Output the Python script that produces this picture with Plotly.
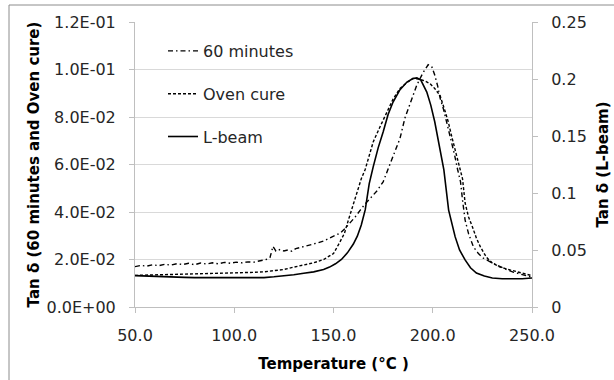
import plotly.graph_objects as go

# ---------------- data ----------------
temp_60 = [50, 53, 56, 59, 62, 65, 68, 71, 74, 77, 80, 83, 86, 89, 92, 95, 98, 101, 104, 107,
           110, 113, 116, 118, 119.5, 121, 123, 125, 127, 129, 131, 133, 136, 139, 142, 145,
           148, 151, 153.5, 156, 158.5, 161, 163.5, 166, 169, 172, 175, 177.5, 180, 183.5,
           186, 189.6, 192, 195, 197.7, 199.5, 201, 202.5, 203.7, 205.5, 207, 209, 211,
           212.5, 214, 215, 216.3, 218, 220.5, 223, 225.5, 228.5, 232, 236, 240.5, 244, 248, 250]
tan_60 = [0.0170, 0.0175, 0.0172, 0.0178, 0.0174, 0.0180, 0.0176, 0.0182, 0.0179, 0.0184,
          0.0178, 0.0185, 0.0181, 0.0186, 0.0182, 0.0188, 0.0184, 0.0189, 0.0186, 0.0190,
          0.0189, 0.0196, 0.0200, 0.0208, 0.0255, 0.0235, 0.0242, 0.0236, 0.0240, 0.0235,
          0.0246, 0.0250, 0.0256, 0.0262, 0.0270, 0.0278, 0.0290, 0.0300, 0.0312, 0.0332,
          0.0354, 0.0380, 0.0408, 0.0435, 0.0462, 0.0490, 0.0527, 0.0580, 0.0630, 0.0710,
          0.0796, 0.0880, 0.0935, 0.0985, 0.1020, 0.1012, 0.0977, 0.0930, 0.0880, 0.0830,
          0.0780, 0.0710, 0.0640, 0.0580, 0.0527, 0.0450, 0.0366, 0.0310, 0.0253, 0.0225,
          0.0206, 0.0192, 0.0177, 0.0162, 0.0147, 0.0138, 0.0128, 0.0125]

temp_oven = [50, 55, 60, 65, 70, 75, 80, 85, 90, 95, 100, 105, 110, 115, 120, 125, 130, 135,
             140, 145, 150, 153, 155.5, 157.5, 160, 162, 164, 166, 168, 170, 173.5, 177, 180,
             183.5, 187, 190, 193, 196, 198.7, 201, 203.7, 206, 207.8, 209.5, 211, 213, 215,
             216.3, 218, 220, 222, 224, 227, 230, 234, 239, 244, 248, 250]
tan_oven = [0.0133, 0.0134, 0.0136, 0.0135, 0.0138, 0.0139, 0.0140, 0.0141, 0.0142, 0.0143,
            0.0144, 0.0145, 0.0146, 0.0148, 0.0152, 0.0158, 0.0168, 0.0176, 0.0186, 0.0200,
            0.0225, 0.0270, 0.0310, 0.0366, 0.0435, 0.0490, 0.0540, 0.0580, 0.0640, 0.0695,
            0.0760, 0.0820, 0.0875, 0.0920, 0.0945, 0.0962, 0.0960, 0.0952, 0.0940, 0.0920,
            0.0890, 0.0830, 0.0780, 0.0720, 0.0670, 0.0610, 0.0540, 0.0438, 0.0380, 0.0337,
            0.0290, 0.0253, 0.0210, 0.0185, 0.0168, 0.0156, 0.0145, 0.0135, 0.0132]

temp_lbeam = [50, 55, 60, 65, 70, 75, 80, 85, 90, 95, 100, 105, 110, 115, 120, 125, 130, 135,
              140, 145, 148, 151, 154, 157, 160, 162, 164, 166, 168, 170, 172.5, 175, 177.5,
              180, 183.5, 187, 190, 192, 194, 197, 199, 201, 203.7, 205.6, 208, 211.3, 213.5,
              216.3, 219, 222, 226, 230, 235, 240, 245, 250]
tan_lbeam = [0.0275, 0.0271, 0.0273, 0.0267, 0.0265, 0.0260, 0.0258, 0.0258, 0.0256, 0.0254,
             0.0254, 0.0256, 0.0256, 0.0258, 0.0265, 0.0273, 0.0283, 0.0296, 0.0308, 0.0329,
             0.0350, 0.0379, 0.0417, 0.0475, 0.0552, 0.0621, 0.0719, 0.0854, 0.1083, 0.1229,
             0.1396, 0.1535, 0.1688, 0.1798, 0.1906, 0.1973, 0.2004, 0.2010, 0.1990, 0.1885,
             0.1771, 0.1625, 0.1396, 0.1202, 0.0850, 0.0615, 0.0500, 0.0413, 0.0344, 0.0298,
             0.0271, 0.0254, 0.0248, 0.0246, 0.0248, 0.0254]

x_ticks = [50, 100, 150, 200, 250]
x_ticktext = ["50.0", "100.0", "150.0", "200.0", "250.0"]
left_ticks = [0, 0.02, 0.04, 0.06, 0.08, 0.10, 0.12]
left_ticktext = ["0.0E+00", "2.0E-02", "4.0E-02", "6.0E-02", "8.0E-02", "1.0E-01", "1.2E-01"]
right_ticks = [0, 0.05, 0.10, 0.15, 0.20, 0.25]
right_ticktext = ["0", "0.05", "0.1", "0.15", "0.2", "0.25"]

# ---------------- figure ----------------
FONT = "DejaVu Sans"
TXT = "#262626"
AXC = "#bfbfbf"

fig = go.Figure()
fig.add_trace(go.Scatter(x=temp_60, y=tan_60, mode="lines", name="60 minutes",
                         legendgroup="a",
                         line=dict(color="black", width=1.4, dash="5px,3px,1.5px,3px")))
fig.add_trace(go.Scatter(x=temp_oven, y=tan_oven, mode="lines", name="Oven cure",
                         legendgroup="b",
                         line=dict(color="black", width=1.4, dash="3px,2px")))
fig.add_trace(go.Scatter(x=temp_lbeam, y=tan_lbeam, mode="lines", name="L-beam",
                         legendgroup="c", yaxis="y2",
                         line=dict(color="black", width=1.6)))

fig.update_layout(
    width=614, height=380,
    margin=dict(l=135, r=82, t=22, b=73, autoexpand=False),
    paper_bgcolor="white", plot_bgcolor="white",
    font=dict(family=FONT, size=16, color=TXT),
    showlegend=True,
    legend=dict(x=(163 - 135) / 397, y=(307 - 34) / 285, xanchor="left", yanchor="top",
                bgcolor="rgba(0,0,0,0)", borderwidth=0, itemwidth=30,
                tracegroupgap=19, font=dict(family=FONT, size=16, color=TXT)),
    xaxis=dict(range=[50, 250], tickvals=x_ticks, ticktext=x_ticktext,
               showgrid=False, zeroline=False, showline=True, linecolor=AXC, linewidth=1,
               ticks="outside", ticklen=5, tickcolor=AXC, ticklabelstandoff=9,
               tickfont=dict(family=FONT, size=16, color=TXT),
               title=dict(text="<b>Temperature (°C )</b>", standoff=14,
                          font=dict(family=FONT, size=15, color="black"))),
    yaxis=dict(range=[0, 0.12], tickvals=left_ticks, ticktext=left_ticktext,
               showgrid=True, gridcolor="#d9d9d9", gridwidth=1, zeroline=False,
               showline=True, linecolor=AXC, linewidth=1,
               ticks="outside", ticklen=5, tickcolor=AXC, ticklabelstandoff=10,
               tickfont=dict(family=FONT, size=16, color=TXT),
               title=dict(text="<b>Tan δ (60 minutes and Oven cure)</b>", standoff=3,
                          font=dict(family=FONT, size=15, color="black"))),
    yaxis2=dict(range=[0, 0.25], tickvals=right_ticks, ticktext=right_ticktext,
                overlaying="y", side="right", showgrid=False, zeroline=False,
                showline=True, linecolor=AXC, linewidth=1,
                ticks="outside", ticklen=5, tickcolor=AXC, ticklabelstandoff=10,
                tickfont=dict(family=FONT, size=16, color=TXT),
                title=dict(text="<b>Tan δ (L-beam)</b>", standoff=11,
                           font=dict(family=FONT, size=15, color="black"))),
)

# outer chart frame (left and top edges visible in the reference)
fx0 = (9 - 135) / 397
fy1 = (307 - 5) / 285
fig.add_shape(type="line", xref="paper", yref="paper", x0=fx0, x1=fx0, y0=fy1, y1=-0.5,
              line=dict(color="#8c8c8c", width=1))
fig.add_shape(type="line", xref="paper", yref="paper", x0=fx0, x1=1.5, y0=fy1, y1=fy1,
              line=dict(color="#8c8c8c", width=1))

fig.write_html("out.html", config={"displayModeBar": False},
               post_script="document.body.style.margin='0';")
